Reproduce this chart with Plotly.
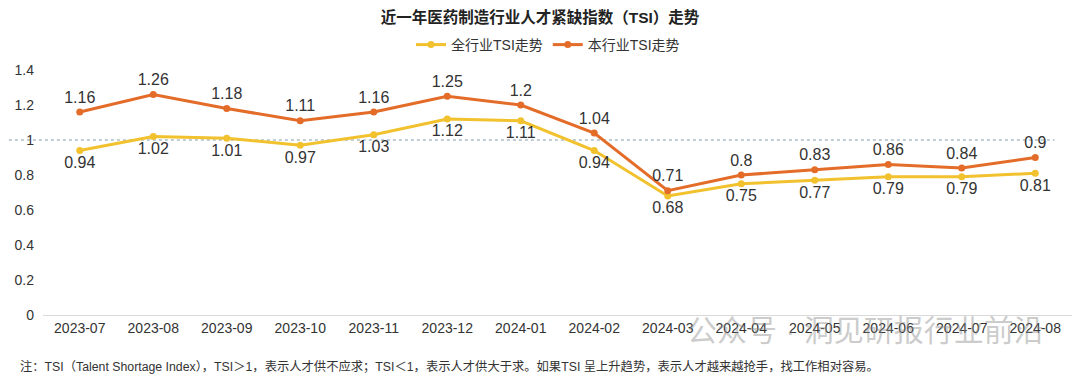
import plotly.graph_objects as go

months = ["2023-07", "2023-08", "2023-09", "2023-10", "2023-11", "2023-12", "2024-01",
          "2024-02", "2024-03", "2024-04", "2024-05", "2024-06", "2024-07", "2024-08"]
all_industry = [0.94, 1.02, 1.01, 0.97, 1.03, 1.12, 1.11, 0.94, 0.68, 0.75, 0.77, 0.79, 0.79, 0.81]
this_industry = [1.16, 1.26, 1.18, 1.11, 1.16, 1.25, 1.2, 1.04, 0.71, 0.8, 0.83, 0.86, 0.84, 0.9]
y_ticks = [0, 0.2, 0.4, 0.6, 0.8, 1, 1.2, 1.4]
y_tick_text = ["0", "0.2", "0.4", "0.6", "0.8", "1", "1.2", "1.4"]

YELLOW = "#F2C12E"
ORANGE = "#E46C29"
FONT = "Liberation Sans, Noto Sans CJK SC, sans-serif"

W, H = 1072, 372          # page has an 8px body margin
L, R, T, B = 35, 8, 62, 65
PH = H - T - B

fig = go.Figure()
fig.add_trace(go.Scatter(
    x=months, y=all_industry, name="全行业TSI走势", mode="lines+markers+text",
    line=dict(color=YELLOW, width=3), marker=dict(size=7, color=YELLOW),
    text=[f"{v:g}" for v in all_industry], textposition="bottom center",
    textfont=dict(size=16, color="#333333"), cliponaxis=False,
))
fig.add_trace(go.Scatter(
    x=months, y=this_industry, name="本行业TSI走势", mode="lines+markers+text",
    line=dict(color=ORANGE, width=3), marker=dict(size=7, color=ORANGE),
    text=[f"{v:g}" for v in this_industry], textposition="top center",
    textfont=dict(size=16, color="#333333"), cliponaxis=False,
))

fig.add_shape(type="line", xref="paper", yref="y", x0=-0.039, x1=0.983, y0=1, y1=1,
              line=dict(color="#7f9aa8", width=1, dash="dot"), layer="below")

fig.update_layout(
    width=W, height=H,
    margin=dict(l=L, r=R, t=T, b=B, autoexpand=False),
    paper_bgcolor="white", plot_bgcolor="white",
    font=dict(family=FONT, color="#333333"),
    title=dict(text="<b>近一年医药制造行业人才紧缺指数（TSI）走势</b>", x=(540 - 8) / W,
               xanchor="center", xref="container", yref="container",
               y=1 - 9.5 / H, yanchor="middle", font=dict(size=15.5, color="#222222")),
    legend=dict(orientation="h", x=(548 - 8) / W, xanchor="center", xref="container",
                yref="container", y=1 - 37 / H, yanchor="middle",
                font=dict(size=14, color="#333333"), traceorder="normal"),
    showlegend=True,
    xaxis=dict(type="category", range=[-0.5, 13.5], automargin=False, showgrid=False,
               showline=True, linecolor="#d9d9d9",
               linewidth=1, ticks="", tickfont=dict(size=14, color="#333333"),
               zeroline=False),
    yaxis=dict(range=[0, 1.4], automargin=False, tickvals=y_ticks, ticktext=y_tick_text,
               showgrid=False, zeroline=False, showline=False, ticks="", ticklabelstandoff=8,
               tickfont=dict(size=14, color="#333333")),
    annotations=[
        dict(text="注：TSI（Talent Shortage Index），TSI＞1，表示人才供不应求；TSI＜1，表示人才供大于求。如果TSI 呈上升趋势，表示人才越来越抢手，找工作相对容易。",
             xref="paper", yref="paper", x=(10 - L) / (W - L - R), y=(H - B - 359) / PH,
             xanchor="left", yanchor="middle",
             showarrow=False, font=dict(size=12.3, color="#333333")),
        dict(text="公众号 · 洞见研报行业前沿", xref="paper", yref="paper",
             x=(677 - L) / (W - L - R), y=(H - B - 322) / PH,
             xanchor="left", yanchor="middle", showarrow=False,
             font=dict(size=30, color="rgba(140,140,140,0.45)")),
    ],
)

fig.write_html("out.html")
